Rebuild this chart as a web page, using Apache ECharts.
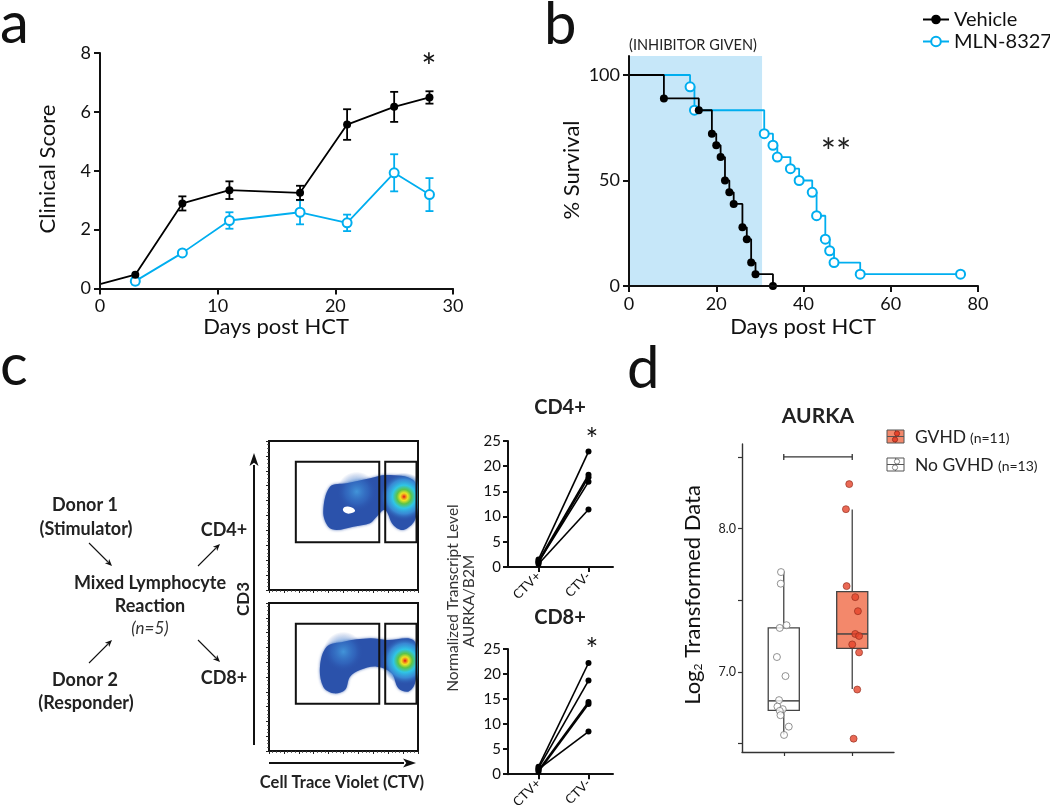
<!DOCTYPE html>
<html><head><meta charset="utf-8">
<script src="https://cdn.jsdelivr.net/npm/echarts@6/dist/echarts.min.js"></script>
<style>html,body{margin:0;padding:0;background:#fff}#c{width:1050px;height:811px}</style>
</head><body><div id="c"></div>
<script>
const FONT = 'Lato, "Open Sans", sans-serif';
const BLUE = '#00aeef';

// ---- Panel a: clinical score ----
const aVehicleDays = [0, 3, 7, 11, 17, 21, 25, 28];
const aVehicleMean = [0.15, 0.47, 2.89, 3.34, 3.25, 5.57, 6.17, 6.49];
const aVehicleErr  = [0, 0, 0.24, 0.30, 0.24, 0.52, 0.51, 0.21];
const aMlnDays = [3, 7, 11, 17, 21, 25, 28];
const aMlnMean = [0.25, 1.21, 2.31, 2.59, 2.23, 3.93, 3.19];
const aMlnErr  = [0.11, 0, 0.28, 0.41, 0.28, 0.63, 0.56];

// ---- Panel b: survival ----
const bVehicleDays = [0, 8, 16, 19, 20, 21, 22, 23, 24, 26, 27, 28, 29, 33];
const bVehicleSurv = [100, 88.9, 83.3, 72.2, 66.7, 61.1, 50, 44.4, 38.9, 27.8, 22.2, 11.1, 5.6, 0];
const bMlnDays = [0, 14, 15, 31, 33, 34, 37, 39, 42, 43, 45, 46, 47, 53, 76];
const bMlnSurv = [100, 94.4, 83.3, 72.2, 66.7, 61.1, 55.6, 50, 44.4, 33.3, 22.2, 16.7, 11.1, 5.6, 5.6];
const bInhibitorWindow = [0, 30.5];
const bYTicks = [0, 50, 100];

// ---- Panel c: flow plots (CTV vs CD3, 0-100 display units) ----
const flowGates = [[18, 32, 74, 86], [78, 32, 99, 86]];
const flowTopBlob = [[36.4,52.6],[40.9,69.3],[52.1,71.6],[67.8,75.0],[79.0,77.2],[96.8,73.8],[99,60],[98.0,47.0],[90.1,40.3],[83.4,43.6],[77.9,53.7],[72.3,49.2],[67.8,44.8],[56.6,42.5],[45.4,40.3],[39.8,42.5]];
const flowTopHole = [[49.7,54.5],[53,56],[57.7,53.5],[55,51.5],[51,52]];
const flowBottomBlob = [[34.2,57.0],[38.7,70.5],[49.9,73.9],[67.8,76.1],[79.0,75.0],[96.8,75.0],[99,60],[98.0,45.7],[93.5,40.1],[86.8,42.4],[82.3,52.5],[72.3,57.0],[61.1,54.7],[54.4,50.2],[51.0,41.2],[43.2,39.0],[36.4,43.4]];
const flowTopPeak = [90.6, 62.6];
const flowTopLight = [58.9, 66];
const flowBottomPeak = [91.3, 61.0];
const flowBottomLight = [49.9, 67.1];

// ---- Panel c: paired transcript levels ----
const ctvCategories = ['CTV+', 'CTV-'];
const cd4Pos = [1.5, 1.2, 0.9, 1.0, 0.6];
const cd4Neg = [22.9, 18.3, 17.8, 16.9, 11.4];
const cd8Pos = [1.5, 1.2, 0.8, 0.5, 1.0];
const cd8Neg = [22.2, 18.7, 14.4, 14.0, 8.5];

// ---- Panel d: AURKA box plot ----
const dGroups = ['No GVHD', 'GVHD'];
const dNoGvhdValues = [7.696, 7.615, 7.306, 7.325, 7.103, 6.970, 6.802, 6.757, 6.739, 6.727, 6.697, 6.617, 6.559];
const dNoGvhdJitter = [-0.04, -0.044, -0.059, 0.04, -0.10, 0.025, -0.069, -0.092, -0.015, -0.059, -0.048, 0.073, 0.004];
const dGvhdValues = [8.31, 8.135, 7.598, 7.521, 7.423, 7.264, 7.250, 7.191, 7.135, 6.876, 6.533];
const dGvhdJitter = [-0.044, -0.092, -0.082, 0.044, 0.083, 0.044, 0.10, 0, 0.10, 0.073, 0.02];
// [position, min, q1, median, q3, max]
const dBoxStats = [[1, 6.563, 6.73, 6.797, 7.306, 7.70], [2, 6.879, 7.163, 7.264, 7.56, 8.133]];
const dYTicks = [6.5, 7.0, 7.5, 8.0, 8.5];
const dYLabels = [7.0, 8.0];
const dBracket = [[1, 2, 8.5]];

// ---------------------------------------------------------------
const chart = echarts.init(document.getElementById('c'), null, {renderer: 'canvas'});
const zip = (xs, ys) => xs.map((x, i) => [x, ys[i]]);

function errRender(color) {
  return function (params, api) {
    const x = api.value(0), m = api.value(1), e = api.value(2);
    if (!e) return null;
    const t = api.coord([x, m + e]), b = api.coord([x, m - e]);
    const w = 4, st = {stroke: color, lineWidth: 1.8};
    return {type: 'group', children: [
      {type: 'line', shape: {x1: t[0], y1: t[1], x2: b[0], y2: b[1]}, style: st},
      {type: 'line', shape: {x1: t[0] - w, y1: t[1], x2: t[0] + w, y2: t[1]}, style: st},
      {type: 'line', shape: {x1: b[0] - w, y1: b[1], x2: b[0] + w, y2: b[1]}, style: st}
    ]};
  };
}

function gateRender(params, api) {
  const p0 = api.coord([api.value(0), api.value(3)]);
  const p1 = api.coord([api.value(2), api.value(1)]);
  return {type: 'rect', shape: {x: p0[0], y: p0[1], width: p1[0] - p0[0], height: p1[1] - p0[1]},
    style: {fill: 'none', stroke: '#111', lineWidth: 2}, z2: 10};
}

function blobRender(poly, hole, peak, light) {
  return function (params, api) {
    const pts = poly.map(p => api.coord(p));
    const pk = api.coord(peak), lt = api.coord(light);
    const ch = [
      {type: 'polygon', shape: {points: pts, smooth: 0.35},
        style: {fill: '#2b52ab', shadowBlur: 3, shadowColor: 'rgba(43,82,171,0.8)'}},
      {type: 'circle', shape: {cx: lt[0], cy: lt[1], r: 20},
        style: {fill: new echarts.graphic.RadialGradient(0.5, 0.5, 0.5, [
          {offset: 0, color: 'rgba(70,160,225,0.85)'},
          {offset: 0.6, color: 'rgba(55,120,205,0.45)'},
          {offset: 1, color: 'rgba(43,82,171,0)'}])}},
      {type: 'circle', shape: {cx: pk[0], cy: pk[1], r: 24},
        style: {fill: new echarts.graphic.RadialGradient(0.5, 0.5, 0.5, [
          {offset: 0, color: '#e3101a'},
          {offset: 0.08, color: '#f08a1a'},
          {offset: 0.16, color: '#eee223'},
          {offset: 0.3, color: '#5cc448'},
          {offset: 0.48, color: '#2fc6e6'},
          {offset: 0.72, color: 'rgba(60,150,222,0.8)'},
          {offset: 1, color: 'rgba(43,82,171,0)'}])}}
    ];
    if (hole) ch.push({type: 'polygon', shape: {points: hole.map(p => api.coord(p)), smooth: 0.5}, style: {fill: '#fff'}});
    return {type: 'group', children: ch};
  };
}

function boxRender(fill) {
  return function (params, api) {
    const x = api.value(0);
    const mn = api.coord([x, api.value(1)]), q1 = api.coord([x, api.value(2)]),
          md = api.coord([x, api.value(3)]), q3 = api.coord([x, api.value(4)]),
          mx = api.coord([x, api.value(5)]);
    const hw = api.size([0.227, 0])[0];
    const st = {stroke: '#444', lineWidth: 1.3};
    return {type: 'group', children: [
      {type: 'line', shape: {x1: mx[0], y1: mx[1], x2: q3[0], y2: q3[1]}, style: st},
      {type: 'line', shape: {x1: q1[0], y1: q1[1], x2: mn[0], y2: mn[1]}, style: st},
      {type: 'rect', shape: {x: q3[0] - hw, y: q3[1], width: hw * 2, height: q1[1] - q3[1]}, style: {fill: fill, stroke: '#444', lineWidth: 1.3}},
      {type: 'line', shape: {x1: md[0] - hw, y1: md[1], x2: md[0] + hw, y2: md[1]}, style: {stroke: '#444', lineWidth: 1.5}}
    ]};
  };
}

function bracketRender(params, api) {
  const a = api.coord([api.value(0), api.value(2)]), b = api.coord([api.value(1), api.value(2)]);
  const st = {stroke: '#333', lineWidth: 1.3};
  return {type: 'group', children: [
    {type: 'line', shape: {x1: a[0], y1: a[1], x2: b[0], y2: b[1]}, style: st},
    {type: 'line', shape: {x1: a[0], y1: a[1] - 3, x2: a[0], y2: a[1] + 3}, style: st},
    {type: 'line', shape: {x1: b[0], y1: b[1] - 3, x2: b[0], y2: b[1] + 3}, style: st}
  ]};
}

function mainAxis(gridIndex, min, max, interval, extra) {
  const ax = {
    type: 'value', gridIndex, min, max, interval,
    axisLine: {show: true, onZero: false, lineStyle: {color: '#111', width: 2}},
    axisTick: {show: true, length: 6, lineStyle: {color: '#111', width: 2}},
    axisLabel: {fontSize: 18, color: '#111', margin: 9, fontFamily: FONT},
    splitLine: {show: false}, z: 10
  };
  return Object.assign(ax, extra || {});
}

function flowAxis(gridIndex) {
  return {
    type: 'value', gridIndex, min: 0, max: 100, interval: 10,
    axisLine: {show: false},
    axisTick: {show: true, length: 3, lineStyle: {color: '#222', width: 1}},
    minorTick: {show: true, splitNumber: 4, length: 2, lineStyle: {color: '#444', width: 0.8}},
    axisLabel: {show: false}, splitLine: {show: false}
  };
}

function cdYAxis(gridIndex) {
  return {
    type: 'value', gridIndex, min: 0, max: 25, interval: 5,
    axisLine: {show: true, onZero: false, lineStyle: {color: '#111', width: 2}},
    axisTick: {show: true, length: 5, lineStyle: {color: '#111', width: 2}},
    axisLabel: {fontSize: 15, color: '#111', margin: 7, fontFamily: FONT},
    splitLine: {show: false}
  };
}
function cdXAxis(gridIndex) {
  return {
    type: 'value', gridIndex, min: 0.39, max: 2.49,
    axisLine: {show: true, onZero: false, lineStyle: {color: '#111', width: 2}},
    axisTick: {show: true, length: 5, lineStyle: {color: '#111', width: 2}, customValues: [1, 2]},
    axisLabel: {fontSize: 13, color: '#111', rotate: 45, margin: 7, fontFamily: FONT,
      customValues: [1, 2], formatter: v => ctvCategories[Math.round(v) - 1]},
    splitLine: {show: false}
  };
}

function arrow(x1, y1, x2, y2, lw, head, hw) {
  const dx = x2 - x1, dy = y2 - y1, L = Math.hypot(dx, dy), ux = dx / L, uy = dy / L;
  const bx = x2 - ux * head, by = y2 - uy * head;
  return {type: 'group', children: [
    {type: 'line', shape: {x1, y1, x2: bx + ux * 1, y2: by + uy * 1}, style: {stroke: '#111', lineWidth: lw}},
    {type: 'polygon', shape: {points: [[x2, y2], [bx - uy * hw, by + ux * hw], [bx + ux * head * 0.25, by + uy * head * 0.25], [bx + uy * hw, by - ux * hw]]}, style: {fill: '#111'}}
  ]};
}

function txt(x, y, text, size, opts) {
  opts = opts || {};
  return {
    type: 'text', x, y, rotation: opts.rotation || 0,
    style: {
      text, fontSize: size, fontFamily: FONT, fontWeight: opts.weight || 'normal',
      fontStyle: opts.style || 'normal', fill: opts.color || '#111',
      textAlign: opts.align || 'center', textVerticalAlign: opts.valign || 'middle',
      align: opts.align || 'center', verticalAlign: opts.valign || 'middle',
      rich: opts.rich
    }
  };
}

const legendIcon = (x, y, fill, dotFill, dotStroke) => ({
  type: 'group', children: [
    {type: 'rect', shape: {x, y, width: 17, height: 13}, style: {fill, stroke: '#555', lineWidth: 1}},
    {type: 'line', shape: {x1: x, y1: y + 6.5, x2: x + 17, y2: y + 6.5}, style: {stroke: '#555', lineWidth: 1}},
    {type: 'line', shape: {x1: x + 8.5, y1: y, x2: x + 8.5, y2: y + 13}, style: {stroke: '#555', lineWidth: 0.8}},
    {type: 'circle', shape: {cx: x + 10, cy: y + 3.5, r: 2.6}, style: {fill: dotFill, stroke: dotStroke, lineWidth: 0.8}},
    {type: 'circle', shape: {cx: x + 8, cy: y + 9.5, r: 2.6}, style: {fill: dotFill, stroke: dotStroke, lineWidth: 0.8}}
  ]
});

const series = [];
// Panel b KM
series.push({
  name: 'Vehicle', type: 'line', xAxisIndex: 1, yAxisIndex: 1, step: 'end',
  data: zip(bVehicleDays, bVehicleSurv).map((d, i) => i === 0 ? {value: d, symbol: 'none'} : d),
  symbol: 'circle', symbolSize: 8, color: '#000', lineStyle: {width: 1.8, color: '#000'}, z: 4,
  markArea: {silent: true, itemStyle: {color: '#c6e7f9'},
    data: [[{coord: [bInhibitorWindow[0], 0]}, {coord: [bInhibitorWindow[1], 109]}]]}
});
series.push({
  name: 'MLN-8327', type: 'line', xAxisIndex: 1, yAxisIndex: 1, step: 'end',
  data: zip(bMlnDays, bMlnSurv).map((d, i) => i === 0 ? {value: d, symbol: 'none'} : d),
  symbol: 'emptyCircle', symbolSize: 9, color: BLUE, itemStyle: {borderWidth: 1.8},
  lineStyle: {width: 1.8, color: BLUE}, z: 3
});
// Panel a
series.push({
  name: 'Vehicle', type: 'line', xAxisIndex: 0, yAxisIndex: 0,
  data: zip(aVehicleDays, aVehicleMean).map((d, i) => i === 0 ? {value: d, symbol: 'none'} : d),
  symbol: 'circle', symbolSize: 8, color: '#000', lineStyle: {width: 1.8, color: '#000'}, z: 4
});
series.push({type: 'custom', xAxisIndex: 0, yAxisIndex: 0, renderItem: errRender('#000'), z: 4,
  data: aVehicleDays.map((d, i) => [d, aVehicleMean[i], aVehicleErr[i]])});
series.push({
  name: 'MLN-8327', type: 'line', xAxisIndex: 0, yAxisIndex: 0,
  data: zip(aMlnDays, aMlnMean), symbol: 'emptyCircle', symbolSize: 9, color: BLUE,
  itemStyle: {borderWidth: 1.8}, lineStyle: {width: 1.8, color: BLUE}, z: 3
});
series.push({type: 'custom', xAxisIndex: 0, yAxisIndex: 0, renderItem: errRender(BLUE), z: 3,
  data: aMlnDays.map((d, i) => [d, aMlnMean[i], aMlnErr[i]])});
// Flow plots
series.push({type: 'custom', xAxisIndex: 2, yAxisIndex: 2, data: [[0, 0]], silent: true, clip: true,
  renderItem: blobRender(flowTopBlob, flowTopHole, flowTopPeak, flowTopLight)});
series.push({type: 'custom', xAxisIndex: 3, yAxisIndex: 3, data: [[0, 0]], silent: true, clip: true,
  renderItem: blobRender(flowBottomBlob, null, flowBottomPeak, flowBottomLight)});
series.push({type: 'custom', xAxisIndex: 2, yAxisIndex: 2, data: flowGates, renderItem: gateRender, z: 5});
series.push({type: 'custom', xAxisIndex: 3, yAxisIndex: 3, data: flowGates, renderItem: gateRender, z: 5});
// Paired lines
cd4Pos.forEach((v, i) => series.push({type: 'line', xAxisIndex: 4, yAxisIndex: 4,
  data: [[1, v], [2, cd4Neg[i]]], symbol: 'circle', symbolSize: 6, color: '#000', lineStyle: {width: 1.6, color: '#000'}}));
cd8Pos.forEach((v, i) => series.push({type: 'line', xAxisIndex: 5, yAxisIndex: 5,
  data: [[1, v], [2, cd8Neg[i]]], symbol: 'circle', symbolSize: 6, color: '#000', lineStyle: {width: 1.6, color: '#000'}}));
// Panel d
series.push({type: 'custom', xAxisIndex: 6, yAxisIndex: 6, renderItem: boxRender('#fff'), data: [dBoxStats[0]], z: 2});
series.push({type: 'custom', xAxisIndex: 6, yAxisIndex: 6, renderItem: boxRender('#f3886b'), data: [dBoxStats[1]], z: 2});
series.push({type: 'scatter', xAxisIndex: 6, yAxisIndex: 6, symbol: 'circle', symbolSize: 7,
  itemStyle: {color: '#fff', borderColor: '#777', borderWidth: 1}, z: 3,
  data: dNoGvhdValues.map((v, i) => [1 + dNoGvhdJitter[i], v])});
series.push({type: 'scatter', xAxisIndex: 6, yAxisIndex: 6, symbol: 'circle', symbolSize: 7,
  itemStyle: {color: '#e5432b', borderColor: '#8e2a1a', borderWidth: 0.8}, z: 3,
  data: dGvhdValues.map((v, i) => [2 + dGvhdJitter[i], v])});
series.push({type: 'custom', xAxisIndex: 6, yAxisIndex: 6, renderItem: bracketRender, data: dBracket});

const option = {
  animation: false,
  textStyle: {fontFamily: FONT},
  grid: [
    {left: 100, top: 53, width: 353, height: 235.5},
    {left: 629, top: 56, width: 349, height: 230},
    {left: 269, top: 441, width: 149, height: 149, show: true, borderColor: '#111', borderWidth: 2},
    {left: 269, top: 603, width: 149, height: 148, show: true, borderColor: '#111', borderWidth: 2},
    {left: 508, top: 441, width: 105, height: 126},
    {left: 508, top: 649, width: 105, height: 126},
    {left: 742, top: 444, width: 152, height: 308}
  ],
  xAxis: [
    mainAxis(0, 0, 30, 10),
    mainAxis(1, 0, 80, 20),
    flowAxis(2), flowAxis(3),
    cdXAxis(4), cdXAxis(5),
    {type: 'value', gridIndex: 6, min: 0.39, max: 2.61,
      axisLine: {show: true, onZero: false, lineStyle: {color: '#333', width: 1.4}},
      axisTick: {show: true, length: 4, lineStyle: {color: '#333', width: 1.2}, customValues: [1, 2]},
      axisLabel: {show: false}, splitLine: {show: false}}
  ],
  yAxis: [
    mainAxis(0, 0, 8, 2),
    mainAxis(1, 0, 109, null, {
      axisTick: {show: true, length: 6, lineStyle: {color: '#111', width: 2}, customValues: bYTicks},
      axisLabel: {fontSize: 18, color: '#111', margin: 9, fontFamily: FONT, customValues: bYTicks}}),
    flowAxis(2), flowAxis(3),
    cdYAxis(4), cdYAxis(5),
    {type: 'value', gridIndex: 6, min: 6.44, max: 8.59,
      axisLine: {show: true, onZero: false, lineStyle: {color: '#333', width: 1.4}},
      axisTick: {show: true, length: 4, lineStyle: {color: '#333', width: 1.2}, customValues: dYTicks},
      axisLabel: {fontSize: 12.5, color: '#222', margin: 6, fontFamily: FONT, customValues: dYLabels,
        formatter: v => Number(v).toFixed(1)},
      splitLine: {show: false}}
  ],
  legend: {
    data: ['Vehicle', 'MLN-8327'], orient: 'vertical', left: 917, top: 4,
    itemWidth: 26, itemHeight: 12, itemGap: 1, selectedMode: false,
    textStyle: {fontSize: 20, color: '#111', fontFamily: FONT, lineHeight: 21, padding: [0, 0, 0, 0]}
  },
  graphic: [
    // panel letters
    txt(0, 24, 'a', 58, {align: 'left'}),
    txt(544, 25, 'b', 58, {align: 'left'}),
    txt(0, 366, 'c', 58, {align: 'left'}),
    txt(627, 369, 'd', 58, {align: 'left'}),
    // panel a
    txt(48, 169, 'Clinical Score', 22, {rotation: Math.PI / 2}),
    txt(276, 327, 'Days post HCT', 22),
    txt(429, 68, '*', 36),
    // panel b
    txt(572, 170, '% Survival', 22, {rotation: Math.PI / 2}),
    txt(803, 327, 'Days post HCT', 22),
    txt(693, 45, '(INHIBITOR GIVEN)', 14.5, {color: '#222'}),
    txt(836, 153, '**', 36, {color: '#222'}),
    // panel c diagram
    txt(85, 505, 'Donor 1', 18, {weight: 'bold', color: '#222'}),
    txt(86, 529, '(Stimulator)', 18, {weight: 'bold', color: '#222'}),
    txt(150, 583, 'Mixed Lymphocyte', 18, {weight: 'bold', color: '#222'}),
    txt(150, 606, 'Reaction', 18, {weight: 'bold', color: '#222'}),
    txt(150, 629, '(n=5)', 17, {style: 'italic', color: '#333'}),
    txt(85, 680, 'Donor 2', 18, {weight: 'bold', color: '#222'}),
    txt(86, 703, '(Responder)', 18, {weight: 'bold', color: '#222'}),
    txt(224, 530, 'CD4+', 18, {weight: 'bold', color: '#222'}),
    txt(224, 678, 'CD8+', 18, {weight: 'bold', color: '#222'}),
    arrow(89, 543, 112, 566, 1.1, 7, 3),
    arrow(89, 663, 112, 640, 1.1, 7, 3),
    arrow(198, 566, 220, 544, 1.1, 7, 3),
    arrow(198, 640, 220, 662, 1.1, 7, 3),
    arrow(254, 745, 254, 453, 2, 13, 4.5),
    arrow(269, 763, 416, 763, 2, 13, 4.5),
    txt(244, 599, 'CD3', 17, {weight: 'bold', rotation: Math.PI / 2, color: '#222'}),
    txt(342, 783, 'Cell Trace Violet (CTV)', 16.5, {weight: 'bold', color: '#222'}),
    // panel c paired plots
    txt(560, 408, 'CD4+', 20, {weight: 'bold', color: '#222'}),
    txt(560, 618, 'CD8+', 20, {weight: 'bold', color: '#222'}),
    txt(592, 440, '*', 30),
    txt(592, 650, '*', 30),
    txt(453, 598, 'Normalized Transcript Level', 15.5, {rotation: Math.PI / 2, color: '#333'}),
    txt(469, 601, 'AURKA/B2M', 15.5, {rotation: Math.PI / 2, color: '#333'}),
    // panel d
    txt(818, 416, 'AURKA', 21, {weight: 'bold', color: '#222'}),
    txt(693, 595, 'Log{s|2} Transformed Data', 22, {rotation: Math.PI / 2, color: '#111',
      rich: {s: {fontSize: 12, lineHeight: 12, verticalAlign: 'bottom', fontFamily: FONT, fill: '#111'}}}),
    legendIcon(887, 430, '#f3886b', '#e5432b', '#8e2a1a'),
    legendIcon(887, 458, '#fff', '#fff', '#666'),
    txt(915, 437, 'GVHD', 17.5, {align: 'left', color: '#222'}),
    txt(970, 438, '(n=11)', 14, {align: 'left', color: '#222'}),
    txt(915, 465, 'No GVHD', 17.5, {align: 'left', color: '#222'}),
    txt(998, 466, '(n=13)', 14, {align: 'left', color: '#222'})
  ],
  series
};
chart.setOption(option);
</script></body></html>
